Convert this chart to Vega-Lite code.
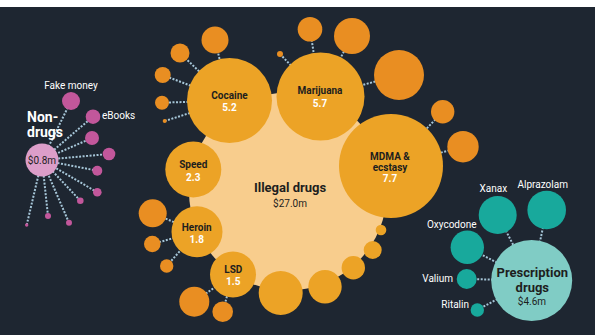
{
  "$schema": "https://vega.github.io/schema/vega-lite/v6.json",
  "width": 595,
  "height": 335,
  "autosize": {"type": "fit", "contains": "padding"},
  "padding": {"top": 7, "left": 0, "right": 0, "bottom": 0},
  "background": "#ffffff",
  "config": {"view": {"fill": "#1e2631", "stroke": null}},
  "datasets": {
    "bubbles": [
      {"name": "Illegal drugs", "kind": "illegalTotal", "x": 288, "y": 191.5, "r": 99},
      {"name": "Non-drugs", "kind": "nonTotal", "x": 42, "y": 160, "r": 16.5},
      {"name": "Prescription drugs", "kind": "rxTotal", "x": 531.7, "y": 280.5, "r": 40.5},
      {"name": "Cocaine", "kind": "illegalDrug", "x": 229.5, "y": 100.5, "r": 42.5},
      {"name": "Marijuana", "kind": "illegalDrug", "x": 320.5, "y": 96.5, "r": 44},
      {"name": "MDMA & ecstasy", "kind": "illegalDrug", "x": 391, "y": 166, "r": 52},
      {"name": "Speed", "kind": "illegalDrug", "x": 193.3, "y": 169.5, "r": 28},
      {"name": "Heroin", "kind": "illegalDrug", "x": 197, "y": 231.7, "r": 25.5},
      {"name": "LSD", "kind": "illegalDrug", "x": 233, "y": 274.5, "r": 23},
      {"name": "other1", "kind": "illegalDrug", "x": 280.7, "y": 293, "r": 22},
      {"name": "other2", "kind": "illegalDrug", "x": 325, "y": 286.7, "r": 16.7},
      {"name": "other3", "kind": "illegalDrug", "x": 353.3, "y": 267.7, "r": 11.7},
      {"name": "other4", "kind": "illegalDrug", "x": 372.7, "y": 250, "r": 9},
      {"name": "other5", "kind": "illegalDrug", "x": 381, "y": 230, "r": 5.3},
      {"name": "coc1", "kind": "illegalSat", "x": 215, "y": 40, "r": 13.5, "px": 229.5, "py": 100.5},
      {"name": "coc2", "kind": "illegalSat", "x": 180, "y": 53, "r": 9.5, "px": 229.5, "py": 100.5},
      {"name": "coc3", "kind": "illegalSat", "x": 162.7, "y": 75, "r": 8, "px": 229.5, "py": 100.5},
      {"name": "coc4", "kind": "illegalSat", "x": 162, "y": 102.7, "r": 7, "px": 229.5, "py": 100.5},
      {"name": "coc5", "kind": "illegalSat", "x": 164.7, "y": 121, "r": 2, "px": 229.5, "py": 100.5},
      {"name": "mar1", "kind": "illegalSat", "x": 280, "y": 54, "r": 3, "px": 320.5, "py": 96.5},
      {"name": "mar2", "kind": "illegalSat", "x": 310, "y": 29.3, "r": 12.3, "px": 320.5, "py": 96.5},
      {"name": "mar3", "kind": "illegalSat", "x": 352, "y": 36, "r": 18, "px": 320.5, "py": 96.5},
      {"name": "mar4", "kind": "illegalSat", "x": 399, "y": 75, "r": 25, "px": 320.5, "py": 96.5},
      {"name": "mdma1", "kind": "illegalSat", "x": 442.7, "y": 111.7, "r": 11.7, "px": 391, "py": 166},
      {"name": "mdma2", "kind": "illegalSat", "x": 463, "y": 146.7, "r": 15.7, "px": 391, "py": 166},
      {"name": "her1", "kind": "illegalSat", "x": 152.7, "y": 213.3, "r": 14, "px": 197, "py": 231.7},
      {"name": "her2", "kind": "illegalSat", "x": 152.3, "y": 244, "r": 8.3, "px": 197, "py": 231.7},
      {"name": "her3", "kind": "illegalSat", "x": 166.7, "y": 266, "r": 6.7, "px": 197, "py": 231.7},
      {"name": "lsd1", "kind": "illegalSat", "x": 194.3, "y": 301.7, "r": 15, "px": 233, "py": 274.5},
      {"name": "lsd2", "kind": "illegalSat", "x": 222.7, "y": 311.7, "r": 10.3, "px": 233, "py": 274.5},
      {"name": "Fake money", "kind": "nonSat", "x": 71, "y": 101, "r": 9, "px": 42, "py": 160},
      {"name": "eBooks", "kind": "nonSat", "x": 93, "y": 116.7, "r": 7.3, "px": 42, "py": 160},
      {"name": "non3", "kind": "nonSat", "x": 92, "y": 138, "r": 7, "px": 42, "py": 160},
      {"name": "non4", "kind": "nonSat", "x": 109, "y": 154, "r": 6.3, "px": 42, "py": 160},
      {"name": "non5", "kind": "nonSat", "x": 97.3, "y": 170.7, "r": 5, "px": 42, "py": 160},
      {"name": "non6", "kind": "nonSat", "x": 97.3, "y": 192.3, "r": 4.3, "px": 42, "py": 160},
      {"name": "non7", "kind": "nonSat", "x": 80.3, "y": 200.7, "r": 3.3, "px": 42, "py": 160},
      {"name": "non8", "kind": "nonSat", "x": 69, "y": 222.7, "r": 3, "px": 42, "py": 160},
      {"name": "non9", "kind": "nonSat", "x": 48, "y": 216, "r": 3, "px": 42, "py": 160},
      {"name": "non10", "kind": "nonSat", "x": 26.7, "y": 225, "r": 1.7, "px": 42, "py": 160},
      {"name": "Xanax", "kind": "rxSat", "x": 497.7, "y": 215, "r": 19, "px": 531.7, "py": 280.5},
      {"name": "Alprazolam", "kind": "rxSat", "x": 546.7, "y": 210, "r": 19.3, "px": 531.7, "py": 280.5},
      {"name": "Oxycodone", "kind": "rxSat", "x": 467.3, "y": 247.3, "r": 16.7, "px": 531.7, "py": 280.5},
      {"name": "Valium", "kind": "rxSat", "x": 466.7, "y": 279, "r": 10, "px": 531.7, "py": 280.5},
      {"name": "Ritalin", "kind": "rxSat", "x": 477.3, "y": 310, "r": 6.7, "px": 531.7, "py": 280.5}
    ],
    "labels": [
      {"text": "Fake money", "role": "satC", "x": 71, "y": 86},
      {"text": "Xanax", "role": "satC", "x": 493.3, "y": 189.3},
      {"text": "Alprazolam", "role": "satC", "x": 542.7, "y": 185},
      {"text": "Oxycodone", "role": "satC", "x": 451.7, "y": 225},
      {"text": "eBooks", "role": "satL", "x": 102, "y": 116},
      {"text": "Valium", "role": "satR", "x": 453, "y": 279},
      {"text": "Ritalin", "role": "satR", "x": 469, "y": 305},
      {"text": "Cocaine", "role": "drug", "x": 229.5, "y": 96.2},
      {"text": "Marijuana", "role": "drug", "x": 320, "y": 91.2},
      {"text": "MDMA &", "role": "drug", "x": 390, "y": 156.5},
      {"text": "ecstasy", "role": "drug", "x": 390, "y": 167.8},
      {"text": "Speed", "role": "drug", "x": 193.3, "y": 165},
      {"text": "Heroin", "role": "drug", "x": 196.7, "y": 227.8},
      {"text": "LSD", "role": "drug", "x": 233.3, "y": 269.5},
      {"text": "5.2", "role": "value", "x": 229.5, "y": 108},
      {"text": "5.7", "role": "value", "x": 320, "y": 103.8},
      {"text": "7.7", "role": "value", "x": 390, "y": 179.3},
      {"text": "2.3", "role": "value", "x": 193.3, "y": 177.8},
      {"text": "1.8", "role": "value", "x": 196.7, "y": 239.8},
      {"text": "1.5", "role": "value", "x": 233.3, "y": 281.5},
      {"text": "Illegal drugs", "role": "titleDark", "x": 290, "y": 188},
      {"text": "Prescription", "role": "titleDark", "x": 532.3, "y": 273},
      {"text": "drugs", "role": "titleDark", "x": 532.3, "y": 287.6},
      {"text": "Non-", "role": "titleWhite", "x": 27, "y": 118},
      {"text": "drugs", "role": "titleWhite", "x": 27, "y": 132.9},
      {"text": "$27.0m", "role": "amount", "x": 290, "y": 204.3},
      {"text": "$0.8m", "role": "amount", "x": 42, "y": 160.5},
      {"text": "$4.6m", "role": "amount", "x": 532, "y": 302.3}
    ]
  },
  "encoding": {
    "x": {"field": "x", "type": "quantitative", "scale": {"domain": [0, 595], "nice": false, "zero": false}, "axis": null},
    "y": {"field": "y", "type": "quantitative", "scale": {"domain": [7, 335], "nice": false, "zero": false, "reverse": true}, "axis": null}
  },
  "layer": [
    {
      "data": {"name": "bubbles"},
      "transform": [{"filter": "isValid(datum.px)"}],
      "mark": {"type": "rule", "stroke": "#a6c6d8", "strokeWidth": 2, "strokeDash": [2, 1.5]},
      "encoding": {
        "x2": {"field": "px"},
        "y2": {"field": "py"}
      }
    },
    {
      "data": {"name": "bubbles"},
      "mark": {"type": "point", "shape": "circle", "filled": true, "opacity": 1, "strokeWidth": 0},
      "encoding": {
        "size": {"field": "r", "type": "quantitative", "scale": {"type": "pow", "exponent": 2, "domain": [0, 100], "range": [0, 40000], "nice": false}, "legend": null},
        "color": {"field": "kind", "type": "nominal", "legend": null,
          "scale": {"domain": ["illegalTotal", "illegalDrug", "illegalSat", "nonTotal", "nonSat", "rxTotal", "rxSat"],
                    "range": ["#f8cd8d", "#eca326", "#e98e22", "#dc9ec9", "#c2579b", "#80ccc5", "#18a99c"]}}
      }
    },
    {
      "data": {"name": "labels"},
      "transform": [{"filter": "datum.role === 'satC'"}],
      "mark": {"type": "text", "font": "Roboto", "fontSize": 10, "color": "#ffffff", "align": "center", "baseline": "middle"},
      "encoding": {"text": {"field": "text"}}
    },
    {
      "data": {"name": "labels"},
      "transform": [{"filter": "datum.role === 'satL'"}],
      "mark": {"type": "text", "font": "Roboto", "fontSize": 10, "color": "#ffffff", "align": "left", "baseline": "middle"},
      "encoding": {"text": {"field": "text"}}
    },
    {
      "data": {"name": "labels"},
      "transform": [{"filter": "datum.role === 'satR'"}],
      "mark": {"type": "text", "font": "Roboto", "fontSize": 10, "color": "#ffffff", "align": "right", "baseline": "middle"},
      "encoding": {"text": {"field": "text"}}
    },
    {
      "data": {"name": "labels"},
      "transform": [{"filter": "datum.role === 'drug'"}],
      "mark": {"type": "text", "font": "Roboto", "fontSize": 10, "fontWeight": "bold", "color": "#1e1e1e", "align": "center", "baseline": "middle"},
      "encoding": {"text": {"field": "text"}}
    },
    {
      "data": {"name": "labels"},
      "transform": [{"filter": "datum.role === 'value'"}],
      "mark": {"type": "text", "font": "Roboto", "fontSize": 10, "fontWeight": "bold", "color": "#ffffff", "align": "center", "baseline": "middle"},
      "encoding": {"text": {"field": "text"}}
    },
    {
      "data": {"name": "labels"},
      "transform": [{"filter": "datum.role === 'titleDark'"}],
      "mark": {"type": "text", "font": "Roboto", "fontSize": 13, "fontWeight": "bold", "color": "#1e1e1e", "align": "center", "baseline": "middle"},
      "encoding": {"text": {"field": "text"}}
    },
    {
      "data": {"name": "labels"},
      "transform": [{"filter": "datum.role === 'titleWhite'"}],
      "mark": {"type": "text", "font": "Roboto", "fontSize": 14, "fontWeight": "bold", "color": "#ffffff", "align": "left", "baseline": "middle"},
      "encoding": {"text": {"field": "text"}}
    },
    {
      "data": {"name": "labels"},
      "transform": [{"filter": "datum.role === 'amount'"}],
      "mark": {"type": "text", "font": "Roboto", "fontSize": 10, "color": "#1e1e1e", "align": "center", "baseline": "middle"},
      "encoding": {"text": {"field": "text"}}
    }
  ]
}
